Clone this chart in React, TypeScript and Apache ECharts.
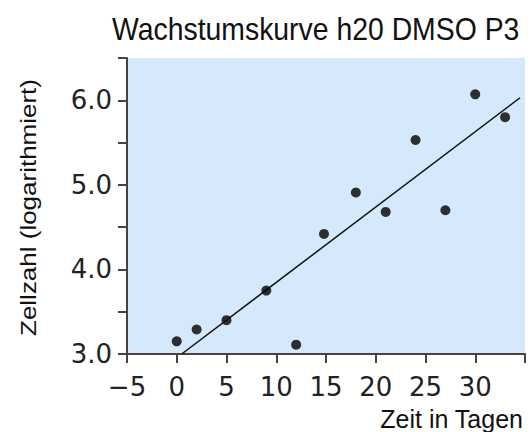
import React, { useEffect, useRef } from "react";
import * as echarts from "echarts";

// Data
const days = [0, 2, 5, 9, 12, 14.8, 18, 21, 24, 27, 30, 33];
const logCells = [3.15, 3.29, 3.4, 3.75, 3.11, 4.42, 4.91, 4.68, 5.53, 4.7, 6.07, 5.8];
const trendDays = [0.5, 34.5];
const trendValues = [3.0, 6.03];

const titleText = "Wachstumskurve h20 DMSO P3";
const yName = "Zellzahl (logarithmiert)";
const xName = "Zeit in Tagen";

const ARIAL = '"Liberation Sans", Arial, Helvetica, sans-serif';
const DEJAVU = '"DejaVu Sans", Verdana, sans-serif';

export default function App() {
  const ref = useRef<HTMLDivElement>(null);

  useEffect(() => {
    if (!ref.current) return;
    const chart = echarts.init(ref.current, undefined, { renderer: "svg" });
    const scatterData = days.map((d, i) => [d, logCells[i]]);
    const trendData = trendDays.map((d, i) => [d, trendValues[i]]);

    chart.setOption({
      animation: false,
      backgroundColor: "#ffffff",
      grid: {
        left: 127,
        right: 6,
        top: 58,
        bottom: 78,
        show: true,
        backgroundColor: "#d6e8fb",
        borderWidth: 0,
      },
      xAxis: {
        type: "value",
        min: -5,
        max: 35,
        interval: 5,
        splitLine: { show: false },
        axisLine: { show: true, onZero: false, lineStyle: { color: "#444", width: 2 } },
        axisTick: { show: true, length: 9, lineStyle: { color: "#444", width: 2 } },
        axisLabel: {
          margin: 20,
          fontFamily: DEJAVU,
          fontSize: 26,
          color: "#222",
          formatter: (v: number) =>
            v === 35 ? "" : v < 0 ? "\u2212" + Math.abs(v) : String(v),
        },
      },
      yAxis: {
        type: "value",
        min: 3,
        max: 6.5,
        interval: 0.5,
        splitLine: { show: false },
        axisLine: { show: true, onZero: false, lineStyle: { color: "#444", width: 2 } },
        axisTick: { show: true, length: 9, lineStyle: { color: "#444", width: 2 } },
        axisLabel: {
          margin: 15,
          fontFamily: DEJAVU,
          fontSize: 26,
          color: "#222",
          formatter: (v: number) =>
            Math.abs(v - Math.round(v)) < 1e-6 ? v.toFixed(1) : "",
        },
      },
      graphic: [
        {
          type: "text",
          x: 112,
          y: 28.5,
          scaleX: 0.887,
          style: {
            text: titleText,
            font: "32px " + ARIAL,
            fill: "#111",
            align: "left",
            verticalAlign: "middle",
            textAlign: "left",
            textVerticalAlign: "middle",
          },
        },
        {
          type: "text",
          x: 28,
          y: 207.5,
          rotation: Math.PI / 2,
          scaleY: 0.88,
          style: {
            text: yName,
            font: "26px " + ARIAL,
            fill: "#111",
            align: "center",
            verticalAlign: "middle",
            textAlign: "center",
            textVerticalAlign: "middle",
          },
        },
        {
          type: "text",
          x: 523,
          y: 419,
          style: {
            text: xName,
            font: "25px " + ARIAL,
            fill: "#111",
            align: "right",
            verticalAlign: "middle",
            textAlign: "right",
            textVerticalAlign: "middle",
          },
        },
      ],
      series: [
        {
          type: "line",
          data: trendData,
          showSymbol: false,
          symbol: "none",
          lineStyle: { color: "#111", width: 1.5 },
          z: 2,
        },
        {
          type: "scatter",
          data: scatterData,
          symbol: "circle",
          symbolSize: 10,
          itemStyle: { color: "#000" },
          z: 3,
        },
      ],
    });

    return () => chart.dispose();
  }, []);

  return (
    <div
      ref={ref}
      style={{ position: "fixed", left: 0, top: 0, width: 531, height: 432 }}
    />
  );
}
